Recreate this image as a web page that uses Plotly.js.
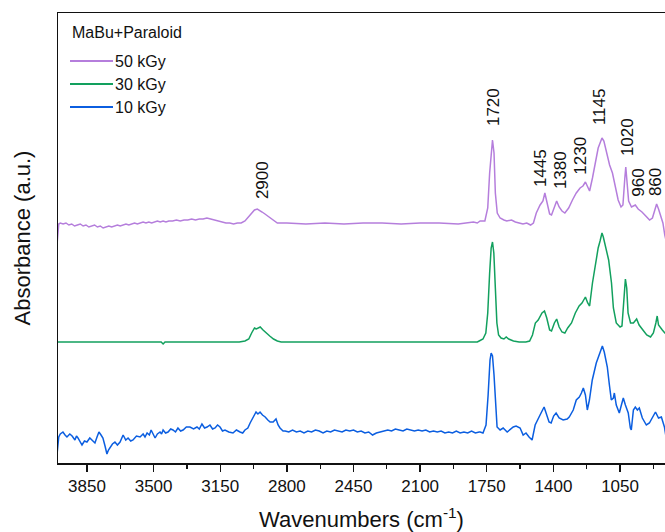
<!DOCTYPE html>
<html>
<head>
<meta charset="utf-8">
<script src="https://cdn.plot.ly/plotly-3.0.1.min.js"></script>
<style>html,body{margin:0;padding:0;background:#fff;}#chart{width:665px;height:532px;}</style>
</head>
<body>
<div id="chart"></div>
<script>
// Series names
const seriesNames = ['50 kGy', '30 kGy', '10 kGy'];
const legendTitle = 'MaBu+Paraloid';

// [wavenumber (cm-1), absorbance (a.u., stacked offset)]
const spectrum50 = [
 [4010,212],[3998,239],[3990,240],[3975,239],[3960,240],[3945,238],[3930,239],[3915,237],[3900,238],[3885,239],
 [3870,237],[3855,238],[3840,236],[3825,237],[3810,238],[3795,236],[3780,237],[3765,235],[3750,236],[3735,237],
 [3720,236],[3705,237],[3690,238],[3675,237],[3660,238],[3645,239],[3630,238],[3615,239],[3600,240],[3585,239],
 [3570,240],[3555,241],[3540,240],[3525,241],[3510,240],[3495,241],[3480,242],[3465,241],[3450,242],[3435,241],
 [3420,242],[3400,242],[3380,243],[3360,242],[3340,243],[3320,243],[3300,244],[3280,243],[3260,244],[3240,244],
 [3220,245],[3200,244],[3180,243],[3160,242],[3140,241],[3120,240],[3100,240],[3080,239],[3060,240],[3040,240],
 [3020,242],[3000,246],[2985,250],[2970,253],[2955,254],[2945,253],[2930,251],[2915,249],[2900,247],[2880,244],
 [2865,242],[2850,240],[2830,240],[2800,240],[2700,239],[2600,240],[2500,239],[2400,240],[2300,240],[2200,239],
 [2100,240],[2000,240],[1900,239],[1820,241],[1800,240],[1785,242],[1760,242],[1745,255],[1735,290],[1725,318],
 [1720,323],[1712,310],[1705,270],[1695,250],[1680,245],[1660,243],[1645,242],[1620,243],[1600,241],[1580,240],
 [1560,239],[1540,240],[1520,238],[1505,240],[1490,250],[1470,258],[1455,262],[1445,270],[1435,262],[1420,249],
 [1410,248],[1395,255],[1383,262],[1370,256],[1355,252],[1340,250],[1320,255],[1300,263],[1280,270],[1260,275],
 [1245,277],[1232,281],[1220,276],[1210,272],[1195,285],[1180,300],[1165,315],[1155,320],[1145,325],[1135,322],
 [1120,310],[1105,298],[1090,290],[1075,275],[1060,263],[1045,256],[1035,258],[1025,285],[1020,296],[1013,280],
 [1005,262],[990,256],[970,258],[955,254],[935,251],[915,247],[895,243],[880,245],[868,252],[858,259],
 [848,254],[838,248],[825,240],[815,228],[800,215]
];

const spectrum30 = [
 [4010,121],[3900,121],[3800,121],[3700,121],[3600,121],[3500,121],[3460,121],[3450,119],[3440,121],[3300,121],
 [3200,121],[3100,121],[3050,121],[3020,122],[3000,124],[2985,130],[2970,135],[2960,134],[2950,135],[2940,136],
 [2925,133],[2910,130],[2890,127],[2870,124],[2850,122],[2830,121],[2600,121],[2400,121],[2200,121],[2000,121],
 [1800,121],[1790,122],[1770,124],[1755,130],[1745,150],[1735,190],[1727,215],[1720,221],[1713,210],[1705,175],
 [1697,140],[1688,128],[1675,125],[1660,124],[1648,126],[1635,124],[1610,122],[1580,121],[1545,121],[1525,122],
 [1510,128],[1495,140],[1480,143],[1460,150],[1447,152],[1435,145],[1420,133],[1410,132],[1395,140],[1383,144],
 [1370,136],[1355,131],[1340,130],[1325,135],[1305,140],[1285,150],[1265,157],[1250,160],[1232,166],[1220,160],
 [1210,157],[1195,180],[1180,200],[1165,215],[1155,222],[1145,230],[1138,226],[1125,215],[1110,203],[1095,180],
 [1085,155],[1070,140],[1050,136],[1040,137],[1030,160],[1022,184],[1015,175],[1008,150],[995,140],[980,140],
 [963,144],[950,138],[930,133],[910,128],[890,126],[875,130],[862,140],[855,147],[848,138],[838,135],
 [828,133],[815,130],[800,128]
];

const spectrum10 = [
 [4010,3],[3998,26],[3990,29],[3976,31],[3965,28],[3955,26],[3940,29],[3928,27],[3913,23],[3905,27],
 [3897,25],[3888,22],[3876,18],[3863,22],[3850,21],[3835,25],[3823,23],[3808,20],[3797,26],[3787,31],
 [3776,28],[3766,25],[3755,17],[3745,9],[3737,13],[3729,15],[3716,19],[3703,21],[3690,18],[3676,21],
 [3668,25],[3660,28],[3646,23],[3634,25],[3620,22],[3608,23],[3590,27],[3571,26],[3555,29],[3545,26],
 [3534,30],[3522,28],[3513,33],[3503,29],[3492,25],[3480,29],[3466,31],[3458,29],[3450,33],[3437,30],
 [3424,31],[3410,34],[3398,33],[3385,31],[3372,35],[3358,32],[3345,33],[3328,36],[3309,36],[3290,34],
 [3272,36],[3260,34],[3246,39],[3232,35],[3219,36],[3204,38],[3190,34],[3177,35],[3164,38],[3151,36],
 [3138,32],[3125,33],[3105,31],[3083,30],[3065,33],[3046,31],[3032,30],[3020,33],[3005,35],[2993,40],
 [2978,46],[2962,51],[2952,49],[2941,51],[2928,48],[2914,46],[2900,43],[2888,41],[2872,41],[2857,44],
 [2846,38],[2836,35],[2820,32],[2809,32],[2790,31],[2770,33],[2750,31],[2730,32],[2710,30],[2690,32],
 [2670,31],[2650,33],[2630,32],[2610,30],[2590,32],[2570,31],[2550,33],[2530,32],[2510,31],[2490,33],
 [2470,32],[2450,33],[2430,31],[2410,32],[2390,30],[2370,31],[2350,28],[2330,30],[2310,31],[2290,32],
 [2270,33],[2250,32],[2230,34],[2210,33],[2190,32],[2170,34],[2150,33],[2130,32],[2110,33],[2090,32],
 [2070,33],[2050,31],[2030,32],[2010,31],[1990,32],[1970,30],[1950,31],[1930,30],[1910,32],[1890,30],
 [1870,31],[1850,30],[1830,32],[1810,30],[1790,31],[1785,31],[1770,30],[1754,38],[1743,68],[1733,103],
 [1727,110],[1720,107],[1712,88],[1701,53],[1696,36],[1680,33],[1664,35],[1643,31],[1627,34],[1611,36],
 [1596,37],[1575,35],[1559,28],[1544,30],[1528,26],[1512,23],[1496,38],[1480,45],[1465,50],[1449,56],
 [1439,51],[1423,41],[1412,40],[1399,47],[1386,50],[1370,45],[1349,43],[1328,44],[1317,46],[1296,53],
 [1280,63],[1264,66],[1253,70],[1243,75],[1232,68],[1222,53],[1211,63],[1196,83],[1175,100],[1159,108],
 [1143,117],[1133,111],[1117,96],[1106,78],[1096,63],[1085,65],[1080,70],[1070,58],[1054,50],[1043,58],
 [1033,65],[1022,58],[1007,50],[996,35],[991,33],[980,53],[970,56],[959,53],[949,55],[933,45],
 [912,38],[896,40],[880,45],[864,51],[848,45],[833,46],[817,36],[806,23]
];

// Peak labels: [text, label x (cm-1), label y (a.u.)]
const peakLabels = [
 ['2900',2930,283],['1720',1717,356],['1445',1470,295],['1380',1365,293],['1230',1262,307],
 ['1145',1160,356],['1020',1013,326],['960',957,280],['860',866,281]
];

const colors = ['#B57EDC','#12A05E','#0B5EE0'];
const specs = [spectrum50, spectrum30, spectrum10];

const FONT = 'Arial, "Liberation Sans", sans-serif';
const TXT = '#111';

// plot geometry helpers (pixel -> paper) for the hand-drawn legend
const L = 58, T = 13, W = 607, H = 450;
const px2x = p => (p - L) / W;
const py2y = p => (T + H - p) / H;

const traces = specs.map((s, i) => ({
  x: s.map(p => p[0]),
  y: s.map(p => p[1]),
  type: 'scatter',
  mode: 'lines',
  name: seriesNames[i],
  line: {color: colors[i], width: 1.5},
  hoverinfo: 'skip'
}));

const annotations = peakLabels.map(p => ({
  x: p[1], y: p[2], xref: 'x', yref: 'y',
  text: p[0], showarrow: false, textangle: -90,
  font: {family: FONT, size: 17, color: TXT},
  xanchor: 'center', yanchor: 'middle', borderpad: 0
}));

// legend drawn as shapes + text
const shapes = [];
annotations.push({
  x: px2x(70), y: py2y(33), xref: 'paper', yref: 'paper',
  text: legendTitle, showarrow: false, xanchor: 'left', yanchor: 'middle',
  font: {family: FONT, size: 16, color: TXT}
});
seriesNames.forEach((n, i) => {
  const yy = 61 + 23 * i;
  shapes.push({
    type: 'line', xref: 'paper', yref: 'paper',
    x0: px2x(70), x1: px2x(113), y0: py2y(yy), y1: py2y(yy),
    line: {color: colors[i], width: 1.8}
  });
  annotations.push({
    x: px2x(113), y: py2y(yy), xref: 'paper', yref: 'paper',
    text: n, showarrow: false, xanchor: 'left', yanchor: 'middle',
    font: {family: FONT, size: 16, color: TXT}
  });
});

const layout = {
  width: 665, height: 532,
  margin: {l: L, r: 0, t: T, b: 532 - T - H},
  paper_bgcolor: '#fff', plot_bgcolor: '#fff',
  font: {family: FONT, color: TXT},
  showlegend: false,
  xaxis: {
    range: [4002, 814],
    tick0: 3850, dtick: 350,
    ticks: 'outside', ticklen: 7, tickwidth: 1.3, tickcolor: TXT,
    minor: {dtick: 175, ticks: 'outside', ticklen: 4, tickwidth: 1.3, tickcolor: TXT},
    showline: true, linecolor: TXT, linewidth: 1.5, mirror: true,
    showgrid: false, zeroline: false,
    tickfont: {family: FONT, size: 17, color: TXT},
    title: {text: 'Wavenumbers (cm<sup>-1</sup>)', font: {family: FONT, size: 22, color: TXT}, standoff: 17}
  },
  yaxis: {
    range: [0, 450],
    showticklabels: false, ticks: '',
    showline: true, linecolor: TXT, linewidth: 1.5, mirror: false,
    showgrid: false, zeroline: false,
    title: {text: 'Absorbance (a.u.)', font: {family: FONT, size: 22, color: TXT}, standoff: 20}
  },
  shapes: shapes,
  annotations: annotations
};

Plotly.newPlot('chart', traces, layout, {staticPlot: true, displayModeBar: false});
</script>
</body>
</html>
